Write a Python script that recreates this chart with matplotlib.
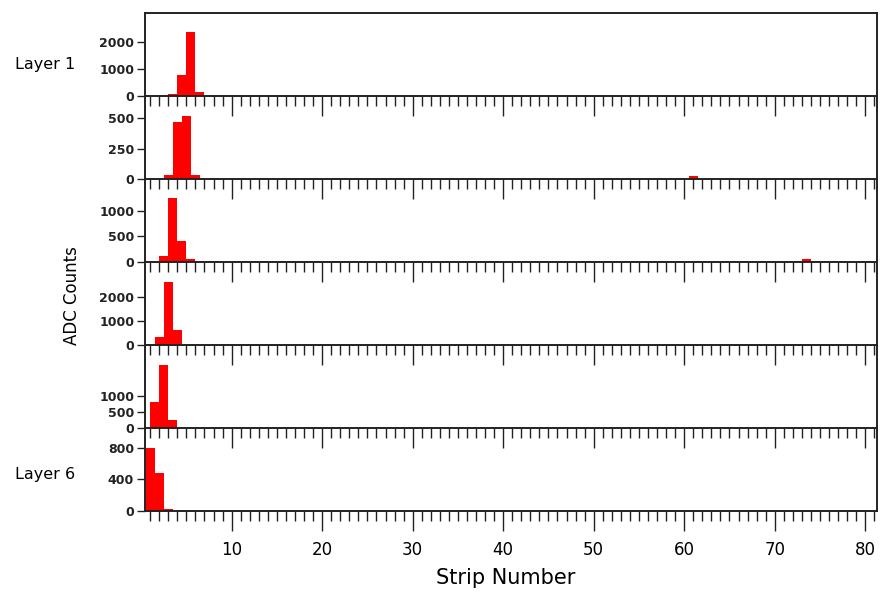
import matplotlib
matplotlib.use("Agg")
import matplotlib.pyplot as plt
from matplotlib.ticker import MultipleLocator

# strip centres and ADC counts, one set per layer
layer1_strips = [3.5, 4.5, 5.5, 6.5]
layer1_counts = [75, 800, 2370, 160]
layer2_strips = [3, 4, 5, 6, 61]
layer2_counts = [35, 466, 517, 35, 25]
layer3_strips = [2.5, 3.5, 4.5, 5.5, 73.5]
layer3_counts = [120, 1235, 413, 57, 55]
layer4_strips = [2, 3, 4]
layer4_counts = [340, 2650, 640]
layer5_strips = [1.5, 2.5, 3.5]
layer5_counts = [790, 1950, 250]
layer6_strips = [1, 2, 3]
layer6_counts = [800, 475, 30]

y_ticks = [[0, 1000, 2000], [0, 250, 500], [0, 500, 1000],
           [0, 1000, 2000], [0, 500, 1000], [0, 400, 800]]
y_max = [3085, 682, 1612, 3476, 2555, 1046]

layers = [(layer1_strips, layer1_counts), (layer2_strips, layer2_counts),
          (layer3_strips, layer3_counts), (layer4_strips, layer4_counts),
          (layer5_strips, layer5_counts), (layer6_strips, layer6_counts)]

fig, axes = plt.subplots(6, 1, figsize=(8.8, 5.92), dpi=100, sharex=True)
fig.subplots_adjust(left=0.165, right=0.9966, top=0.978, bottom=0.1365, hspace=0)

line_col = "#222222"
for i, ax in enumerate(axes):
    strips, counts = layers[i]
    ax.set_facecolor("none")
    ax.bar(strips, counts, width=1.0, color="#ff0000", linewidth=0)
    ax.set_xlim(0.45, 81.3)
    ax.set_ylim(0, y_max[i])
    ax.set_yticks(y_ticks[i])
    ax.set_yticklabels([str(v) for v in y_ticks[i]], fontsize=9, fontweight="bold",
                       color=line_col)
    ax.tick_params(axis="y", direction="out", length=6, width=1.0, pad=2,
                   colors=line_col)
    ax.xaxis.set_major_locator(MultipleLocator(10))
    ax.xaxis.set_minor_locator(MultipleLocator(1))
    ax.tick_params(axis="x", which="major", direction="out", length=14.5,
                   width=1.0, color=line_col)
    ax.tick_params(axis="x", which="minor", direction="out", length=7.2,
                   width=1.0, color=line_col)
    for side in ["left", "right", "bottom", "top"]:
        ax.spines[side].set_color(line_col)
        ax.spines[side].set_linewidth(1.4)
    if i > 0:
        ax.spines["top"].set_visible(False)
    ax.set_zorder(10 - i)

axes[-1].set_xticks(range(10, 81, 10))
axes[-1].set_xticklabels([str(v) for v in range(10, 81, 10)], fontsize=12)
axes[-1].tick_params(axis="x", which="major", pad=7)

fig.text(15 / 880, 1 - 64 / 592, "Layer 1", fontsize=11.5, va="center", ha="left")
fig.text(15 / 880, 1 - 474 / 592, "Layer 6", fontsize=11.5, va="center", ha="left")
fig.text(72 / 880, 1 - 296 / 592, "ADC Counts", fontsize=12, rotation=90,
         va="center", ha="center")
fig.text(506 / 880, 1 - 578 / 592, "Strip Number", fontsize=15,
         va="center", ha="center")

fig.savefig("out.png", dpi=100, facecolor="white")
